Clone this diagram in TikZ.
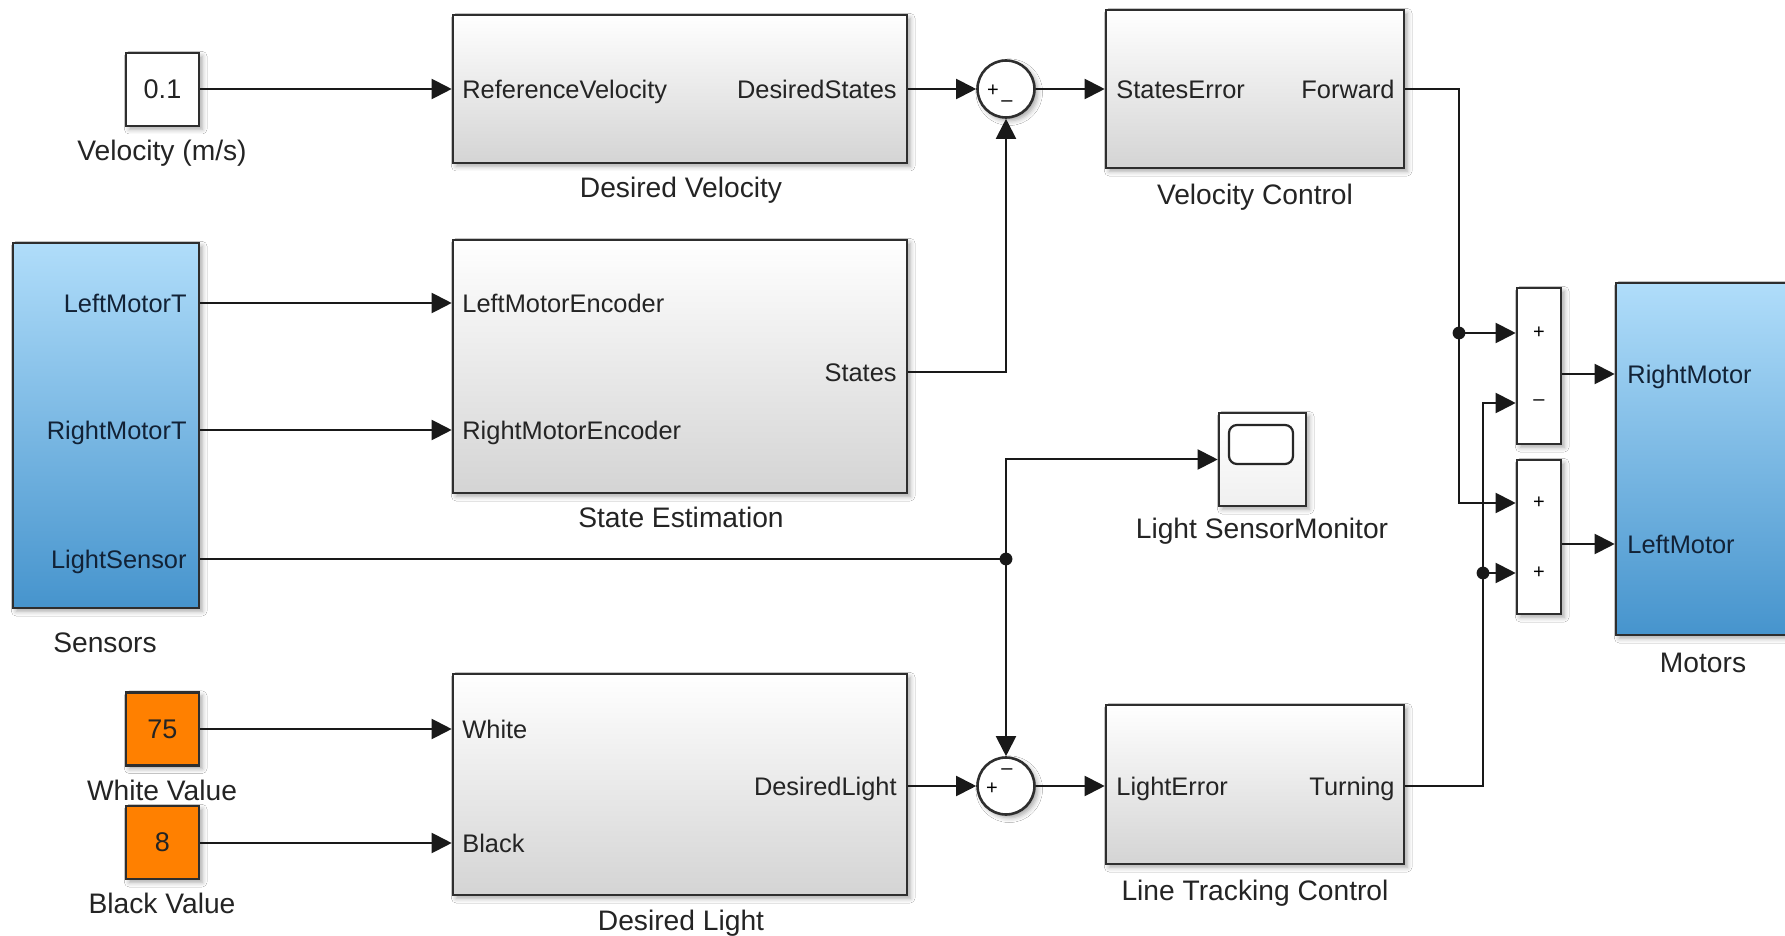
\documentclass[tikz,border=0pt]{standalone}
\usepackage{fontspec}
\setmainfont{Liberation Sans}
\usetikzlibrary{arrows.meta,shadows.blur}

\definecolor{blkgrey}{RGB}{212,212,212}
\definecolor{bluetop}{RGB}{176,221,250}
\definecolor{bluebot}{RGB}{70,148,205}
\definecolor{cstorange}{RGB}{255,128,0}
\definecolor{ink}{RGB}{36,36,36}
\definecolor{navy}{RGB}{18,34,54}

\tikzset{
  every node/.style={font=\fontsize{12.7}{14}\selectfont, text=ink, inner sep=0pt},
  box/.style={draw=black!82, line width=1.3pt,
    blur shadow={shadow xshift=1.6pt, shadow yshift=-1.6pt, shadow blur radius=2.4pt, shadow opacity=35}},
  subsys/.style={box, top color=white, bottom color=blkgrey},
  bluebox/.style={box, top color=bluetop, bottom color=bluebot},
  constbox/.style={box, minimum width=36.5pt, minimum height=36.5pt, font=\fontsize{13.5}{15}\selectfont},
  sumcirc/.style={box, circle, fill=white, minimum size=28.5pt},
  sumrect/.style={box, fill=white, minimum width=22pt},
  caption/.style={font=\fontsize{14.1}{16}\selectfont, text height=10.1pt, text depth=0pt},
  pl/.style={anchor=west, text height=9.1pt, text depth=0pt},
  pr/.style={anchor=east, text height=9.1pt, text depth=0pt},
  sgn/.style={font=\fontsize{10}{10}\selectfont, text=black},
  sig/.style={draw=black!90, line width=1pt, -{Triangle[length=10pt,width=10pt]}},
  wire/.style={draw=black!90, line width=1pt},
  dot/.style={circle, fill=black!90, minimum size=6.4pt},
}

\begin{document}
\begin{tikzpicture}[x=0.5pt, y=-0.5pt]
\useasboundingbox (0,0) rectangle (1785,936);
\clip (0,0) rectangle (1785,936);
\fill[white] (0,0) rectangle (1785,936);

% ---------- sources ----------
\node[constbox, fill=white] (c01) at (162.5,89.5) {0.1};
\node[caption] (c01-lab) at (162,150) {Velocity (m/s)};

\node[constbox, fill=cstorange] (wv) at (162.5,729) {75};
\node[caption] (wv-lab) at (162,790) {White Value};

\node[constbox, fill=cstorange] (bv) at (162.5,842.5) {8};
\node[caption] (bv-lab) at (162,903) {Black Value};

\node[bluebox, minimum width=93pt, minimum height=182.5pt] (sens) at (106,425.5) {};
\node[caption] (sens-lab) at (105,642) {Sensors};
\node[pr, text=navy] (sens-p1) at (187,303) {LeftMotorT};
\node[pr, text=navy] (sens-p2) at (187,430) {RightMotorT};
\node[pr, text=navy] (sens-p3) at (187,559) {LightSensor};

% ---------- subsystems ----------
\node[subsys, minimum width=227pt, minimum height=74pt] (dv) at (680,89) {};
\node[caption] (dv-lab) at (681,187) {Desired Velocity};
\node[pl] (dv-p1) at (462,89) {ReferenceVelocity};
\node[pr] (dv-p2) at (897,89) {DesiredStates};

\node[subsys, minimum width=227pt, minimum height=126.5pt] (se) at (680,366.5) {};
\node[caption] (se-lab) at (681,517) {State Estimation};
\node[pl] (se-p1) at (462,303) {LeftMotorEncoder};
\node[pl] (se-p2) at (462,430) {RightMotorEncoder};
\node[pr] (se-p3) at (897,372) {States};

\node[subsys, minimum width=227pt, minimum height=110.5pt] (dl) at (680,784.5) {};
\node[caption] (dl-lab) at (681,920) {Desired Light};
\node[pl] (dl-p1) at (462,729) {White};
\node[pl] (dl-p2) at (462,843) {Black};
\node[pr] (dl-p3) at (897,786) {DesiredLight};

\node[subsys, minimum width=149pt, minimum height=79pt] (vc) at (1255,89) {};
\node[caption] (vc-lab) at (1255,194) {Velocity Control};
\node[pl] (vc-p1) at (1116,89) {StatesError};
\node[pr] (vc-p2) at (1395,89) {Forward};

\node[subsys, minimum width=149pt, minimum height=79.5pt] (ltc) at (1255,784.5) {};
\node[caption] (ltc-lab) at (1255,890) {Line Tracking Control};
\node[pl] (ltc-p1) at (1116,786) {LightError};
\node[pr] (ltc-p2) at (1395,786) {Turning};

% ---------- sums ----------
\node[sumcirc] (s1) at (1006,89) {};
\node[sgn] (s1-a) at (993,91) {+};
\node[sgn] (s1-b) at (1007,104) {–};

\node[sumcirc] (s2) at (1006,786) {};
\node[sgn] (s2-a) at (1007,772) {–};
\node[sgn] (s2-b) at (992,789) {+};

\node[sumrect, minimum height=78pt] (sA) at (1539,366) {};
\node[sgn] (sA-a) at (1539,333) {+};
\node[sgn] (sA-b) at (1539,403) {–};

\node[sumrect, minimum height=77pt] (sB) at (1539,537) {};
\node[sgn] (sB-a) at (1539,503) {+};
\node[sgn] (sB-b) at (1539,573) {+};

% ---------- scope ----------
\node[box, top color=white, bottom color=black!6, minimum width=43.5pt, minimum height=46.5pt] (scope) at (1262.5,459.5) {};
\node[draw=black!85, fill=white, line width=1.1pt, rounded corners=4pt, minimum width=32pt, minimum height=19.5pt] (scope-scr) at (1261,444.5) {};
\node[caption] (scope-lab) at (1262,528) {Light SensorMonitor};

% ---------- motors ----------
\node[bluebox, minimum width=87pt, minimum height=176pt] (mot) at (1703,459) {};
\node[caption] (mot-lab) at (1703,662) {Motors};
\node[pl, text=navy] (mot-p1) at (1627,374) {RightMotor};
\node[pl, text=navy] (mot-p2) at (1627,544) {LeftMotor};

% ---------- signal lines ----------
\draw[sig] (dv-p1 -| c01.east) -- (dv-p1 -| dv.west);
\draw[sig] (dv-p2 -| dv.east) -- (s1.west);
\draw[sig] (s1.east) -- (vc-p1 -| vc.west);

\draw[sig] (sens-p1 -| sens.east) -- (se-p1 -| se.west);
\draw[sig] (sens-p2 -| sens.east) -- (se-p2 -| se.west);
\draw[sig] (se-p3 -| se.east) -| (s1.south);

\coordinate (jL) at (s1 |- sens-p3);
\draw[wire] (sens-p3 -| sens.east) -- (jL);
\draw[sig] (jL) |- (scope.west);
\draw[sig] (jL) -- (s2.north);
\node[dot] (jL-dot) at (jL) {};

\draw[sig] (dl-p1 -| wv.east) -- (dl-p1 -| dl.west);
\draw[sig] (dl-p2 -| bv.east) -- (dl-p2 -| dl.west);
\draw[sig] (dl-p3 -| dl.east) -- (s2.west);
\draw[sig] (s2.east) -- (ltc-p1 -| ltc.west);

\coordinate (xF) at (1459,0);
\coordinate (xT) at (1483,0);
\draw[sig] (vc-p2 -| vc.east) -| (xF |- sB-a) -- (sB-a -| sB.west);
\draw[sig] (xF |- sA-a) -- (sA-a -| sA.west);
\node[dot] (jF-dot) at (xF |- sA-a) {};

\draw[sig] (ltc-p2 -| ltc.east) -| (xT |- sA-b) -- (sA-b -| sA.west);
\draw[sig] (xT |- sB-b) -- (sB-b -| sB.west);
\node[dot] (jT-dot) at (xT |- sB-b) {};

\draw[sig] (mot-p1 -| sA.east) -- (mot-p1 -| mot.west);
\draw[sig] (mot-p2 -| sB.east) -- (mot-p2 -| mot.west);
\end{tikzpicture}
\end{document}
